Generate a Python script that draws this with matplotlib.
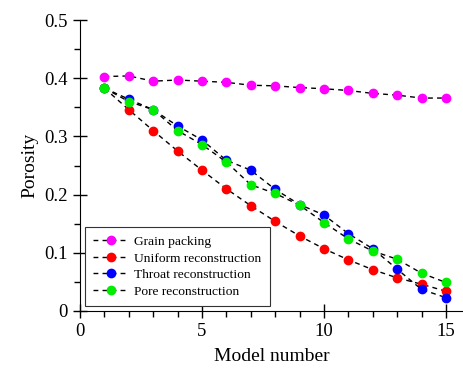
import numpy as np
import matplotlib.pyplot as plt
from matplotlib.ticker import MultipleLocator, FuncFormatter

plt.rcParams["font.family"] = ["Liberation Serif", "DejaVu Serif"]

model = np.arange(1, 16)
grain = [0.403, 0.404, 0.395, 0.397, 0.395, 0.393, 0.388, 0.387, 0.384, 0.382,
         0.379, 0.374, 0.371, 0.366, 0.366]
uniform = [0.383, 0.346, 0.310, 0.275, 0.242, 0.210, 0.181, 0.154, 0.129, 0.107,
           0.088, 0.071, 0.057, 0.046, 0.034]
throat = [0.383, 0.364, 0.346, 0.318, 0.294, 0.259, 0.242, 0.209, 0.183, 0.165,
          0.133, 0.107, 0.072, 0.037, 0.023]
pore = [0.383, 0.360, 0.346, 0.310, 0.286, 0.256, 0.217, 0.202, 0.182, 0.152,
        0.124, 0.103, 0.089, 0.065, 0.049]

series = [
    ("Grain packing", grain, "#ff00ff"),
    ("Uniform reconstruction", uniform, "#ff0000"),
    ("Throat reconstruction", throat, "#0000ff"),
    ("Pore reconstruction", pore, "#00ee00"),
]

fig = plt.figure(figsize=(4.63, 3.72), dpi=100)
ax = fig.add_axes([0.1728, 0.164, 0.8272, 0.782])

for label, y, color in series:
    ax.plot(model, y, linestyle=(0, (3.5, 3)), color="black", linewidth=1.0,
            marker="o", markersize=6.0, markerfacecolor=color,
            markeredgecolor=color, label=label)

ax.set_xlim(0, 15.7)
ax.set_ylim(0, 0.5)
ax.xaxis.set_major_locator(MultipleLocator(5))
ax.xaxis.set_minor_locator(MultipleLocator(1))
ax.yaxis.set_major_locator(MultipleLocator(0.1))
ax.yaxis.set_minor_locator(MultipleLocator(0.05))
ax.yaxis.set_major_formatter(FuncFormatter(lambda v, p: "0" if abs(v) < 1e-9 else f"{v:.1f}"))

ax.spines["top"].set_visible(False)
ax.spines["right"].set_visible(False)
ax.tick_params(which="major", direction="inout", length=9.5, width=1, labelsize=13.5, pad=4)
ax.tick_params(which="minor", direction="out", length=4, width=1)

ax.set_xlabel("Model number", fontsize=14, labelpad=6)
ax.set_ylabel("Porosity", fontsize=14, labelpad=4)

leg = ax.legend(loc="lower left", fontsize=9.7, borderaxespad=0.35,
                fancybox=False, edgecolor="#333333", framealpha=1,
                handlelength=2.6, handletextpad=0.4, borderpad=0.65, labelspacing=0.3)
leg.get_frame().set_linewidth(0.8)

fig.savefig("out.png", dpi=100)
